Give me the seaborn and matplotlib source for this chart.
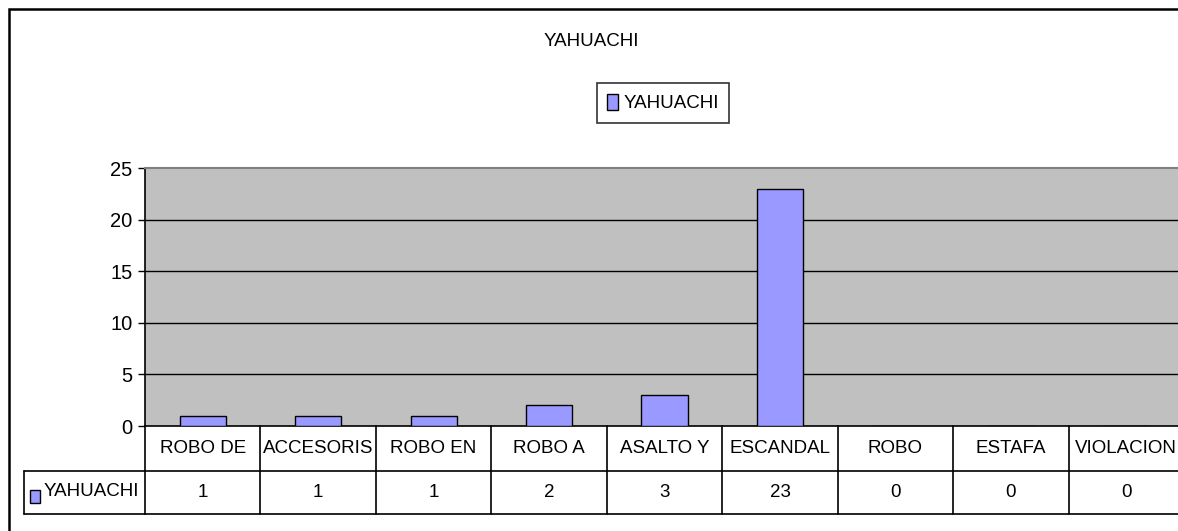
import matplotlib
matplotlib.use("Agg")
import matplotlib.pyplot as plt
import matplotlib.transforms as mtransforms
from matplotlib import font_manager
from matplotlib.patches import Rectangle, Patch
import pandas as pd
import seaborn as sns

categories = ["ROBO DE", "ACCESORIS", "ROBO EN", "ROBO A", "ASALTO Y",
              "ESCANDAL", "ROBO", "ESTAFA", "VIOLACION"]
values = [1, 1, 1, 2, 3, 23, 0, 0, 0]
series_name = "YAHUACHI"
y_ticks = [0, 5, 10, 15, 20, 25]

df = pd.DataFrame({"categoria": categories, "valor": values})

sns.set_style("white")
# narrow font if there is one, otherwise a smaller regular sans
installed = {f.name for f in font_manager.fontManager.ttflist}
if "Liberation Sans Narrow" in installed:
    plt.rcParams["font.family"] = ["Liberation Sans Narrow", "DejaVu Sans"]
    fs = 15.5
else:
    plt.rcParams["font.family"] = ["Liberation Sans", "DejaVu Sans"]
    fs = 13.5
plt.rcParams["text.color"] = "black"
plt.rcParams["ytick.color"] = "black"
plt.rcParams["ytick.labelcolor"] = "black"
bar_color = "#9999FF"

W, H = 1178, 531
fig = plt.figure(figsize=(W / 100, H / 100), dpi=100)
ax = fig.add_axes([145 / W, 1 - 426 / H, (1184 - 145) / W, (426 - 168) / H])
ax.set_facecolor("#C0C0C0")

sns.barplot(data=df, x="categoria", y="valor", color=bar_color, width=0.4,
            edgecolor="black", linewidth=1, saturation=1, ax=ax, zorder=3)

ax.set_ylim(0, 25)
ax.set_xlim(-0.5, len(categories) - 0.5)
ax.set_yticks(y_ticks)
ax.set_yticklabels([str(t) for t in y_ticks], fontsize=fs + 1, color="black")
ax.set_xticks([])
ax.set_xlabel("")
ax.set_ylabel("")
for t in y_ticks[1:-1]:
    ax.axhline(t, color="black", lw=1, zorder=1)
ax.tick_params(axis="y", direction="out", length=5, width=1, color="black", pad=4, left=True)
ax.spines["top"].set_color("#808080")
ax.spines["top"].set_linewidth(1.5)
ax.spines["left"].set_color("black")
ax.spines["left"].set_linewidth(1.2)
ax.spines["bottom"].set_color("black")
ax.spines["bottom"].set_linewidth(1.2)
ax.spines["right"].set_visible(False)

# data table under the plot
trans = ax.get_xaxis_transform()
row1 = -45 / 258
row2 = -88 / 258
n = len(categories)
for i in range(n + 1):
    ax.plot([i - 0.5, i - 0.5], [0, row2], transform=trans, color="black",
            lw=1.2, clip_on=False)
ax.plot([-0.5, n - 0.5], [row1, row1], transform=trans, color="black", lw=1.2, clip_on=False)
ax.plot([-0.5, n - 0.5], [row2, row2], transform=trans, color="black", lw=1.2, clip_on=False)
for i, (c, v) in enumerate(zip(categories, values)):
    ax.text(i, row1 / 2, c, transform=trans, ha="center", va="center", fontsize=fs)
    ax.text(i, (row1 + row2) / 2, str(v), transform=trans, ha="center", va="center", fontsize=fs)

# left label cell of the second row
ltrans = mtransforms.blended_transform_factory(fig.transFigure, ax.transAxes)
x0 = 24 / W
x1 = 145 / W
ax.plot([x0, x1], [row1, row1], transform=ltrans, color="black", lw=1.2, clip_on=False)
ax.plot([x0, x1], [row2, row2], transform=ltrans, color="black", lw=1.2, clip_on=False)
ax.plot([x0, x0], [row1, row2], transform=ltrans, color="black", lw=1.2, clip_on=False)
fig.patches.append(Rectangle((30 / W, 1 - 503 / H), 10 / W, 13 / H, transform=fig.transFigure,
                             facecolor=bar_color, edgecolor="black", lw=1))
fig.text(44 / W, 1 - 492 / H, series_name, ha="left", va="center", fontsize=fs)

# title and legend
fig.text(591 / W, 1 - 42 / H, series_name, ha="center", va="center", fontsize=fs)
handle = Patch(facecolor=bar_color, edgecolor="black", lw=1)
leg = fig.legend([handle], [series_name], loc="center", bbox_to_anchor=(663 / W, 1 - 103 / H),
                 frameon=True, fancybox=False, fontsize=fs, handlelength=0.55,
                 handleheight=1.0, handletextpad=0.3, borderpad=0.55, borderaxespad=0)
leg.get_frame().set_edgecolor("black")
leg.get_frame().set_linewidth(1.2)

# chart frame
fig.patches.append(Rectangle((9 / W, -0.1), 2, 1.1 - 9 / H, transform=fig.transFigure,
                             facecolor="none", edgecolor="black", lw=1.8))

fig.savefig("out.png", dpi=100)
